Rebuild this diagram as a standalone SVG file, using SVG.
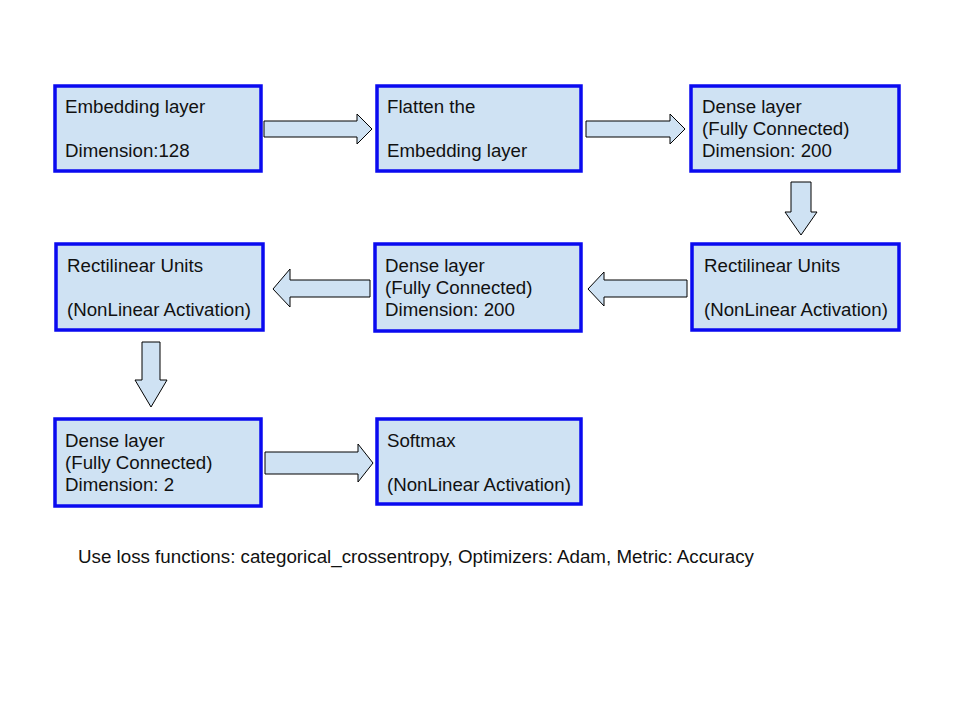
<svg xmlns="http://www.w3.org/2000/svg" width="960" height="720" viewBox="0 0 960 720">
<style>
.box{fill:#cfe2f3;stroke:#0a0af0;stroke-width:3.5}
.arr{fill:#cfe2f3;stroke:#000;stroke-width:1}
text{font-family:"Liberation Sans",Arial,sans-serif;font-size:18.7px;fill:#111}
</style>
<rect width="960" height="720" fill="#fff"/>
<g id="connectors">
<polygon class="arr" points="264,121 357,121 357,114 372,129 357,144 357,137 264,137"/>
<polygon class="arr" points="586,121 670,121 670,114 685,129 670,144 670,137 586,137"/>
<polygon class="arr" points="791,182 811,182 811,212 817,212 801,235 785,212 791,212"/>
<polygon class="arr" points="687,280 604,280 604,272 588,289 604,306 604,297 687,297"/>
<polygon class="arr" points="370,280 290,280 290,269 273,289 290,307 290,297 370,297"/>
<polygon class="arr" points="142,342 160,342 160,380 167,380 151,407 135,380 142,380"/>
<polygon class="arr" points="265,452 358,452 358,444 373,463 358,482 358,474 265,474"/>
</g>
<g id="n1"><rect class="box" x="55" y="86" width="206" height="85"/>
<text x="65" y="113">Embedding layer</text><text x="65" y="157">Dimension:128</text></g>
<g id="n2"><rect class="box" x="377" y="86" width="204" height="85"/>
<text x="387" y="113">Flatten the</text><text x="387" y="157">Embedding layer</text></g>
<g id="n3"><rect class="box" x="691" y="86" width="208" height="85"/>
<text x="702" y="113">Dense layer</text><text x="702" y="135">(Fully Connected)</text><text x="702" y="157">Dimension: 200</text></g>
<g id="n4"><rect class="box" x="692" y="244" width="207" height="86"/>
<text x="704" y="272">Rectilinear Units</text><text x="704" y="316">(NonLinear Activation)</text></g>
<g id="n5"><rect class="box" x="375" y="244" width="206" height="87"/>
<text x="385" y="272">Dense layer</text><text x="385" y="294">(Fully Connected)</text><text x="385" y="316">Dimension: 200</text></g>
<g id="n6"><rect class="box" x="56" y="244" width="207" height="86"/>
<text x="67" y="272">Rectilinear Units</text><text x="67" y="316">(NonLinear Activation)</text></g>
<g id="n7"><rect class="box" x="55" y="419" width="206" height="87"/>
<text x="65" y="447">Dense layer</text><text x="65" y="469">(Fully Connected)</text><text x="65" y="491">Dimension: 2</text></g>
<g id="n8"><rect class="box" x="377" y="419" width="204" height="85"/>
<text x="387" y="447">Softmax</text><text x="387" y="491">(NonLinear Activation)</text></g>
<text x="78" y="563" style="font-size:18.75px">Use loss functions: categorical_crossentropy, Optimizers: Adam, Metric: Accuracy</text>
</svg>
